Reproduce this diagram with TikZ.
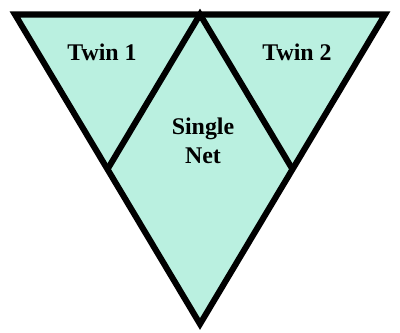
\documentclass[tikz,border=0pt]{standalone}
\usepackage{fontspec}
\setmainfont{Liberation Serif}
\usetikzlibrary{positioning,calc}

\definecolor{netfill}{RGB}{186,240,224}

\begin{document}
\begin{tikzpicture}[x=0.025cm, y=-0.025cm,
    edge/.style={line width=4.3pt, line join=miter, line cap=butt},
    lbl/.style={font=\fontsize{17}{21}\selectfont\bfseries, align=center}]
  \useasboundingbox (0,0) rectangle (400,332);
  %% Corners of the big triangle
  \coordinate (tl) at (15,14.5);
  \coordinate (tr) at (385,14.5);
  \coordinate (tm) at (200,14.5);
  \coordinate (apex) at (200,324);
  \coordinate (ml) at ($(tl)!0.5!(apex)$);
  \coordinate (mr) at ($(tr)!0.5!(apex)$);

  %% Fill and outline
  \fill[netfill] (tl) -- (tr) -- (apex) -- cycle;
  \draw[edge] (tl) -- (tr) -- (apex) -- cycle;
  \draw[edge] (ml) -- (tm) -- (mr);

  %% Labels
  \node[lbl] (twin1) at (102,52) {Twin 1};
  \node[lbl] (twin2) at (297,52) {Twin 2};
  \node[lbl] (single) at (203,141) {Single\\Net};
\end{tikzpicture}
\end{document}
